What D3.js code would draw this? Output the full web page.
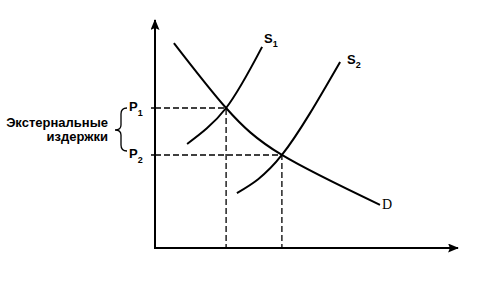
<!DOCTYPE html>
<html>
<head>
<meta charset="utf-8">
<script src="https://cdn.jsdelivr.net/npm/d3@7"></script>
<style>
body{margin:0;background:#fff;}
text{font-family:"Liberation Sans",Arial,sans-serif;font-weight:bold;fill:#000;}
</style>
</head>
<body>
<div id="chart"></div>
<script>
// Кривые (условные единицы: количество 0..10, цена 0..10)
const demandQ = [0.63, 2.37, 4.23, 7.5];
const demandP = [8.99, 6.14, 4.08, 1.89];
const supply1Q = [1.07, 2.37, 3.57];
const supply1P = [4.56, 6.14, 8.82];
const supply2Q = [2.73, 4.23, 6.17];
const supply2P = [2.41, 4.08, 8.16];
// равновесия
const eqQ = [2.37, 4.23];
const eqP = [6.14, 4.08];
const priceLabels = ['1', '2'];

const width = 479, height = 291;
const svg = d3.select('#chart').append('svg')
    .attr('width', width).attr('height', height);

const x = d3.scaleLinear().domain([0, 10]).range([155, 455]);
const y = d3.scaleLinear().domain([0, 10]).range([248, 20]);

svg.append('defs').append('marker')
    .attr('id', 'arrow').attr('viewBox', '0 0 12 10')
    .attr('refX', 11).attr('refY', 5)
    .attr('markerWidth', 12).attr('markerHeight', 9)
    .attr('markerUnits', 'userSpaceOnUse')
    .attr('orient', 'auto')
    .append('path').attr('d', 'M0,0 L12,5 L0,10 L2,5 Z').attr('fill', '#000');

// оси
svg.append('line')
    .attr('x1', x(0)).attr('y1', y(0) + 1).attr('x2', x(0)).attr('y2', y(10))
    .attr('stroke', '#000').attr('stroke-width', 2).attr('marker-end', 'url(#arrow)');
svg.append('line')
    .attr('x1', x(0)).attr('y1', y(0)).attr('x2', x(10.1)).attr('y2', y(0))
    .attr('stroke', '#000').attr('stroke-width', 2).attr('marker-end', 'url(#arrow)');

// пунктир
eqQ.forEach((q, i) => {
    const p = eqP[i];
    svg.append('path')
        .attr('d', `M${x(0)},${y(p)} H${x(q)} V${y(0)}`)
        .attr('fill', 'none').attr('stroke', '#000')
        .attr('stroke-width', 1.3).attr('stroke-dasharray', '6,3');
    svg.append('line')
        .attr('x1', x(0) - 4).attr('x2', x(0)).attr('y1', y(p)).attr('y2', y(p))
        .attr('stroke', '#000').attr('stroke-width', 1.5);
    const t = svg.append('text').attr('x', 129).attr('y', y(p) + 3).style('font-size', '13px');
    t.append('tspan').text('P');
    t.append('tspan').attr('dy', 5).style('font-size', '9px').text(priceLabels[i]);
});

const line = d3.line().x(d => x(d[0])).y(d => y(d[1])).curve(d3.curveNatural);
const curves = [
    d3.zip(demandQ, demandP),
    d3.zip(supply1Q, supply1P),
    d3.zip(supply2Q, supply2P)
];
svg.selectAll('.curve').data(curves).enter().append('path')
    .attr('class', 'curve')
    .attr('d', line)
    .attr('fill', 'none').attr('stroke', '#000').attr('stroke-width', 2);

// подписи кривых
function sLabel(px, py, sub){
    const t = svg.append('text').attr('x', px).attr('y', py).style('font-size', '13px');
    t.append('tspan').text('S');
    t.append('tspan').attr('dy', 4).style('font-size', '9px').text(sub);
}
sLabel(264, 43, '1');
sLabel(347, 64, '2');
svg.append('text').attr('x', 382).attr('y', 209)
    .style('font-family', '"Liberation Serif",serif').style('font-weight', 'normal')
    .style('fill', '#000').style('font-size', '14px').text('D');

// фигурная скобка
svg.append('path')
    .attr('d', 'M127,108 Q121,108 121,114 L121,125 Q121,130 115,130 Q121,130 121,135 L121,145 Q121,151 127,151')
    .attr('fill', 'none').attr('stroke', '#000').attr('stroke-width', 1.3);

svg.append('text').attr('x', 108).attr('y', 127).attr('text-anchor', 'end')
    .style('font-size', '13px').text('Экстернальные');
svg.append('text').attr('x', 108).attr('y', 141).attr('text-anchor', 'end')
    .style('font-size', '13px').text('издержки');
</script>
</body>
</html>
